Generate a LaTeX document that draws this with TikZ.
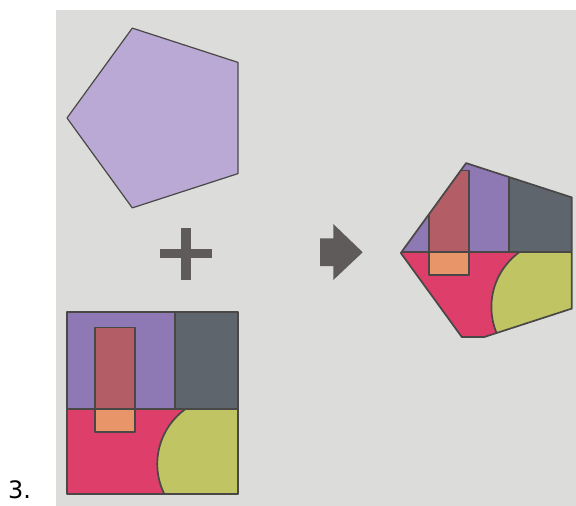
\documentclass[tikz,border=0pt]{standalone}
\usepackage{fontspec}
\setmainfont{DejaVu Sans}
\definecolor{bggray}{HTML}{DCDCDB}
\definecolor{pentfill}{HTML}{B9A9D4}
\definecolor{purp}{HTML}{8E79B5}
\definecolor{slate}{HTML}{5E656C}
\definecolor{rosered}{HTML}{DD3E6A}
\definecolor{olive}{HTML}{C0C462}
\definecolor{brickred}{HTML}{B35D66}
\definecolor{peach}{HTML}{E9956A}
\definecolor{outl}{HTML}{4A4747}
\definecolor{symgray}{HTML}{5F5B5A}
\tikzset{
  edge/.style={draw=outl, line width=1.7pt, line join=round},
  sym/.style={fill=symgray, draw=none}
}
\newcommand\mysquare{%
  \fill[purp] (66.7,311.7) rectangle (175.2,409.3);
  \fill[slate] (175.2,311.7) rectangle (238.3,409.3);
  \fill[rosered] (66.7,409.3) rectangle (238.3,494.3);
  \begin{scope}
    \clip (66.7,409.3) rectangle (238.3,494.3);
    \fill[olive] (225,464) circle[radius=67.7pt];
    \draw[edge] (225,464) circle[radius=67.7pt];
  \end{scope}
  \fill[brickred] (95,327.5) rectangle (135.2,409.3);
  \fill[peach] (95,409.3) rectangle (135.2,431.7);
  \draw[edge] (95,327.5) rectangle (135.2,431.7);
  \draw[edge] (66.7,409.3) -- (238.3,409.3);
  \draw[edge] (175.2,311.7) -- (175.2,409.3);
  \draw[edge] (66.7,311.7) rectangle (238.3,494.3);
}
\begin{document}
\begin{tikzpicture}[x=1pt,y=-1pt]
\useasboundingbox (0,0) rectangle (576,506);
\fill[white] (0,0) rectangle (576,506);
\fill[bggray] (56,10) rectangle (576,506);
% left pentagon
\draw[fill=pentfill, draw=outl, line width=1.2pt, line join=round]
  (67,118) -- (132.3,28.1) -- (238,62.4) -- (238,173.6) -- (132.3,207.9) -- cycle;
% plus sign
\fill[sym] (160,249) rectangle (211.7,258.3);
\fill[sym] (180.7,228.3) rectangle (190.7,280);
% arrow
\fill[sym] (320,238.3) -- (333.3,238.3) -- (333.3,224) -- (362.7,252.3)
  -- (333.3,280) -- (333.3,266) -- (320,266) -- cycle;
% left square
\mysquare
% right combined shape
\begin{scope}
  \clip (400.8,253) -- (466.1,163.1) -- (571.8,197.4) -- (571.8,308.6) -- (466.1,342.9) -- cycle;
  \begin{scope}[shift={(334.1,-157)}]
    \mysquare
  \end{scope}
\end{scope}
\begin{scope}
  \clip (398,150) rectangle (576,337.3);
  \draw[edge] (400.8,253) -- (466.1,163.1) -- (571.8,197.4) -- (571.8,308.6) -- (466.1,342.9) -- cycle;
\end{scope}
\node[anchor=base west, inner sep=0pt, font=\fontsize{24}{26}\selectfont] (label) at (8,498) {3.};
\end{tikzpicture}
\end{document}
